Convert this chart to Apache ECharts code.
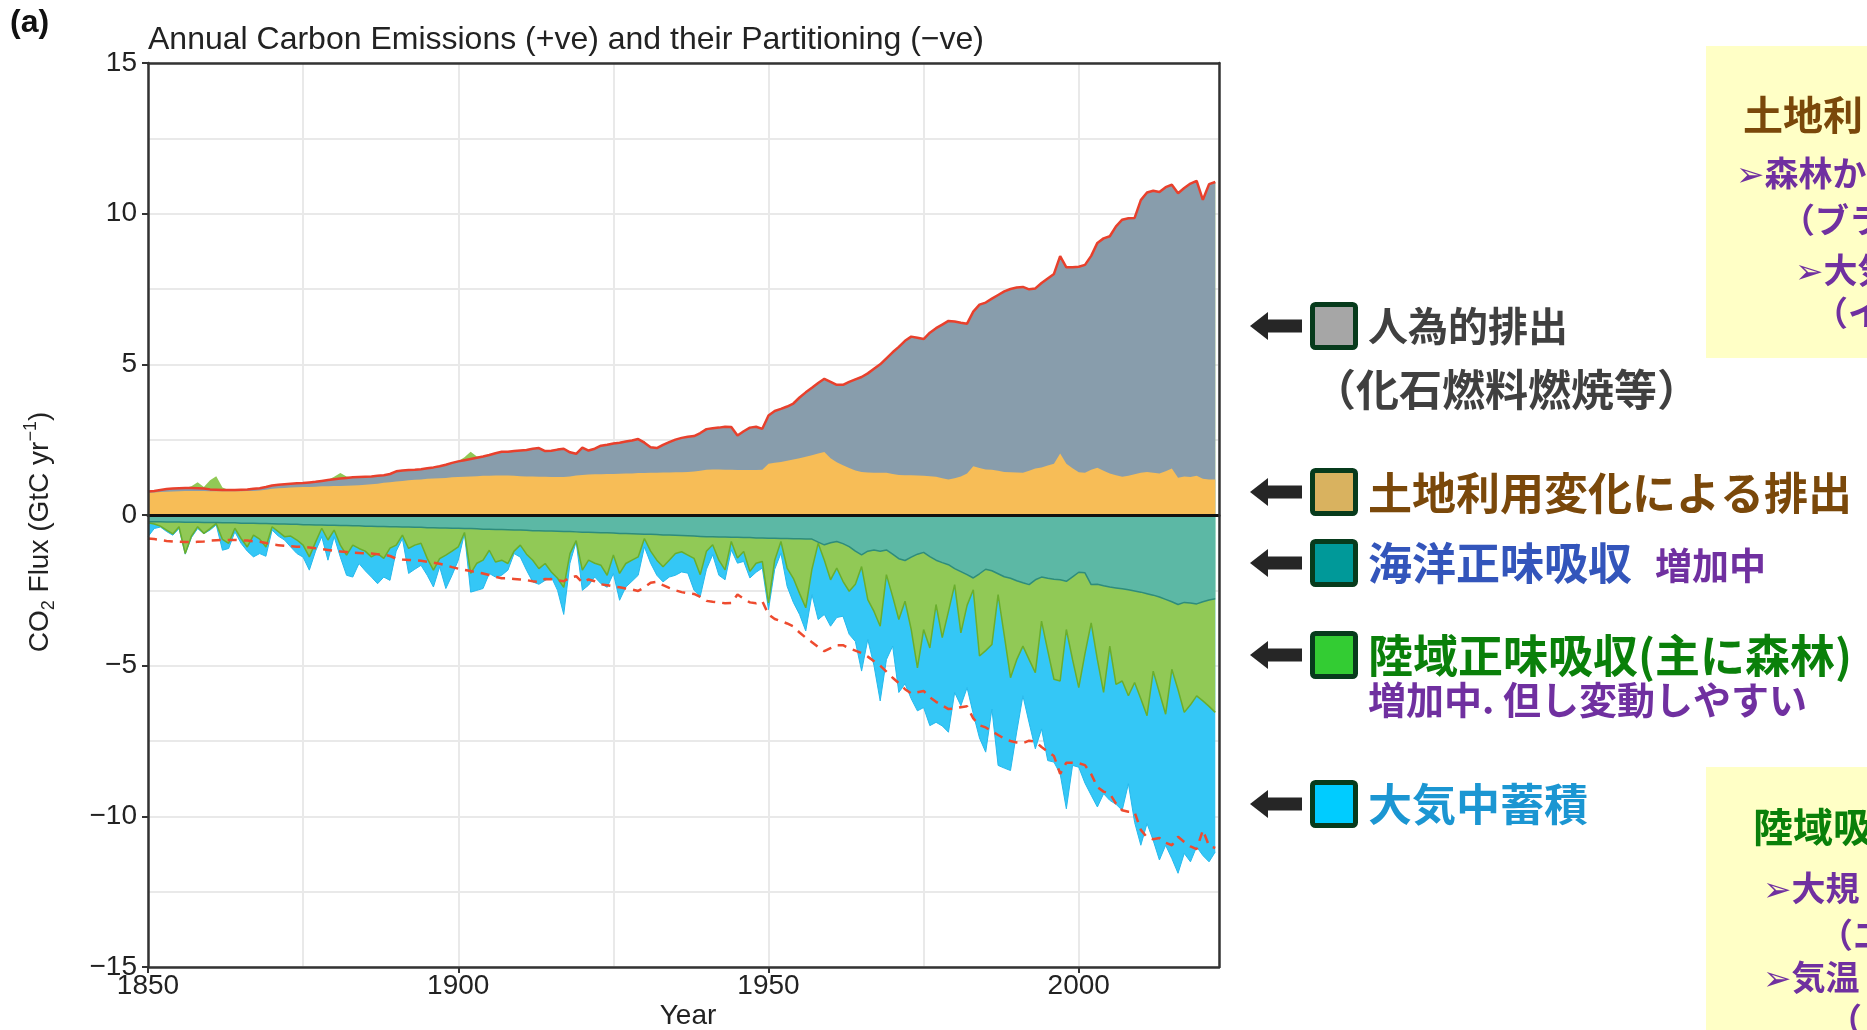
<!DOCTYPE html>
<html>
<head>
<meta charset="utf-8">
<script src="https://cdn.jsdelivr.net/npm/echarts/dist/echarts.min.js"></script>
<style>
html,body{margin:0;padding:0;background:#fff;}
#chart{width:1867px;height:1030px;}
</style>
</head>
<body>
<div id="chart"></div>
<script>
// ---------- data (GtC / yr), one value per year 1850..2022 ----------
const firstYear = 1850, lastYear = 2022;
const years = [];
for (let y = firstYear; y <= lastYear; y++) years.push(y);

// total anthropogenic emissions (fossil + land-use change), top of grey area / red line
const emisTotal = [
 0.78,0.80,0.83,0.86,0.88,0.89,0.90,0.90,0.89,0.88,
 0.85,0.84,0.83,0.83,0.83,0.84,0.85,0.87,0.89,0.93,
 0.98,1.00,1.02,1.04,1.05,1.06,1.08,1.10,1.13,1.16,
 1.19,1.21,1.23,1.25,1.26,1.27,1.28,1.30,1.32,1.36,
 1.45,1.48,1.49,1.50,1.52,1.55,1.58,1.62,1.67,1.73,
 1.78,1.82,1.86,1.90,1.94,1.99,2.05,2.10,2.10,2.12,
 2.14,2.16,2.20,2.22,2.12,2.13,2.17,2.20,2.08,2.03,
 2.24,2.14,2.20,2.30,2.33,2.37,2.40,2.44,2.47,2.52,
 2.40,2.25,2.22,2.33,2.42,2.50,2.56,2.60,2.62,2.72,
 2.85,2.88,2.90,2.93,2.92,2.64,2.78,2.90,2.93,2.86,
 3.30,3.45,3.52,3.60,3.70,3.90,4.07,4.22,4.38,4.52,
 4.42,4.32,4.32,4.42,4.50,4.58,4.70,4.85,5.00,5.20,
 5.40,5.58,5.78,5.92,5.88,5.84,6.05,6.20,6.32,6.44,
 6.42,6.38,6.35,6.75,6.98,7.05,7.18,7.30,7.42,7.50,
 7.55,7.57,7.49,7.52,7.70,7.85,8.00,8.59,8.22,8.22,
 8.24,8.30,8.60,9.03,9.18,9.25,9.58,9.80,9.85,9.86,
 10.45,10.70,10.76,10.72,10.88,10.96,10.68,10.85,11.00,11.09,
 10.46,10.98,11.05
];

// land-use change emissions (orange)
const emisLUC = [
 0.74,0.75,0.76,0.77,0.78,0.79,0.80,0.80,0.80,0.80,
 0.79,0.79,0.79,0.79,0.79,0.79,0.80,0.80,0.81,0.84,
 0.87,0.89,0.90,0.91,0.92,0.93,0.93,0.94,0.95,0.95,
 0.96,0.96,0.97,0.98,0.99,1.00,1.02,1.04,1.07,1.09,
 1.11,1.13,1.15,1.17,1.18,1.20,1.21,1.22,1.23,1.25,
 1.26,1.27,1.28,1.29,1.30,1.30,1.31,1.31,1.31,1.30,
 1.29,1.28,1.28,1.27,1.27,1.26,1.26,1.26,1.28,1.31,
 1.33,1.34,1.35,1.35,1.36,1.36,1.37,1.38,1.38,1.39,
 1.39,1.40,1.40,1.41,1.41,1.42,1.42,1.43,1.44,1.47,
 1.50,1.51,1.51,1.50,1.50,1.49,1.49,1.49,1.49,1.50,
 1.70,1.73,1.76,1.80,1.84,1.88,1.93,1.98,2.04,2.09,
 1.88,1.75,1.65,1.56,1.48,1.43,1.41,1.40,1.40,1.40,
 1.36,1.33,1.32,1.32,1.31,1.30,1.29,1.27,1.22,1.18,
 1.22,1.28,1.38,1.62,1.56,1.51,1.50,1.47,1.43,1.42,
 1.41,1.40,1.47,1.54,1.58,1.64,1.70,2.04,1.70,1.55,
 1.42,1.40,1.50,1.57,1.47,1.38,1.32,1.27,1.30,1.35,
 1.40,1.43,1.40,1.38,1.45,1.54,1.24,1.28,1.26,1.30,
 1.20,1.18,1.18
];

// ocean sink (teal, negative)
const sinkOcean = [
 -0.22,-0.22,-0.22,-0.23,-0.23,-0.23,-0.24,-0.24,-0.24,-0.25,
 -0.25,-0.25,-0.26,-0.26,-0.26,-0.27,-0.27,-0.27,-0.28,-0.28,
 -0.29,-0.30,-0.30,-0.31,-0.31,-0.32,-0.32,-0.33,-0.33,-0.34,
 -0.34,-0.35,-0.35,-0.36,-0.36,-0.37,-0.37,-0.38,-0.38,-0.39,
 -0.39,-0.40,-0.40,-0.41,-0.41,-0.42,-0.42,-0.43,-0.43,-0.44,
 -0.44,-0.45,-0.45,-0.46,-0.47,-0.47,-0.48,-0.48,-0.49,-0.50,
 -0.50,-0.51,-0.52,-0.52,-0.53,-0.53,-0.54,-0.55,-0.55,-0.56,
 -0.57,-0.57,-0.58,-0.59,-0.59,-0.60,-0.61,-0.61,-0.62,-0.63,
 -0.64,-0.64,-0.65,-0.66,-0.66,-0.67,-0.68,-0.69,-0.70,-0.71,
 -0.72,-0.72,-0.73,-0.73,-0.74,-0.74,-0.75,-0.75,-0.76,-0.76,
 -0.77,-0.77,-0.78,-0.78,-0.79,-0.79,-0.80,-0.80,-0.90,-0.99,
 -0.92,-0.88,-0.95,-1.05,-1.20,-1.32,-1.20,-1.16,-1.20,-1.16,
 -1.30,-1.45,-1.51,-1.40,-1.30,-1.24,-1.38,-1.50,-1.58,-1.65,
 -1.78,-1.88,-1.98,-2.09,-1.95,-1.80,-1.85,-1.95,-2.05,-2.10,
 -2.18,-2.25,-2.31,-2.15,-2.06,-2.10,-2.13,-2.15,-2.20,-2.05,
 -1.90,-1.92,-2.31,-2.30,-2.35,-2.39,-2.42,-2.45,-2.48,-2.52,
 -2.56,-2.61,-2.66,-2.72,-2.80,-2.88,-2.97,-2.90,-2.92,-2.95,
 -2.88,-2.82,-2.78
];

// ocean + land sink (bottom of green area)
const sinkOceanLand = [
 -0.26,-0.30,-0.37,-0.50,-0.63,-0.39,-1.28,-0.70,-0.39,-0.61,
 -0.45,-0.28,-0.81,-0.94,-0.44,-0.78,-1.06,-0.67,-0.80,-1.06,
 -0.39,-0.55,-0.72,-0.70,-0.83,-1.00,-1.39,-0.90,-0.44,-0.83,
 -0.50,-1.00,-1.33,-1.00,-1.11,-1.20,-1.39,-1.28,-1.44,-1.10,
 -1.00,-0.67,-1.11,-1.00,-0.94,-1.44,-1.83,-1.45,-1.33,-1.20,
 -1.06,-0.58,-1.94,-1.60,-1.50,-1.17,-1.56,-1.50,-1.61,-1.20,
 -1.00,-1.30,-1.50,-1.78,-1.61,-1.89,-2.10,-2.40,-1.28,-0.85,
 -1.83,-1.50,-1.60,-1.67,-2.00,-1.33,-1.94,-1.61,-1.50,-1.39,
 -0.78,-1.20,-1.50,-1.72,-1.50,-1.28,-1.22,-1.33,-1.44,-1.98,
 -1.20,-0.99,-1.50,-1.82,-0.88,-1.43,-1.21,-1.87,-1.60,-1.54,
 -2.92,-1.50,-0.88,-1.76,-2.10,-2.60,-3.08,-1.80,-0.94,-1.50,
 -2.15,-1.76,-2.20,-2.53,-2.30,-1.71,-2.81,-3.20,-3.69,-1.98,
 -2.70,-3.47,-2.86,-3.80,-5.07,-3.80,-4.41,-2.97,-4.07,-3.20,
 -2.31,-3.91,-3.00,-2.48,-4.68,-4.50,-4.30,-2.64,-4.00,-5.40,
 -4.80,-4.35,-4.80,-5.23,-3.52,-4.50,-5.45,-5.51,-3.80,-4.80,
 -5.73,-4.60,-3.58,-4.80,-5.89,-4.35,-5.62,-5.51,-6.00,-5.56,
 -6.10,-6.66,-5.18,-5.90,-6.61,-5.12,-5.80,-6.55,-6.30,-6.00,
 -6.17,-6.35,-6.55
];

// ocean + land + atmospheric growth (bottom of blue area)
const sinkAll = [
 -0.72,-0.45,-0.40,-0.55,-0.67,-0.45,-1.30,-0.75,-0.45,-0.62,
 -0.50,-0.33,-1.17,-1.11,-0.56,-0.94,-1.20,-1.39,-1.28,-1.37,
 -0.50,-0.70,-0.83,-1.06,-1.28,-1.40,-1.83,-1.20,-0.72,-1.50,
 -0.72,-1.40,-2.00,-2.06,-1.61,-1.85,-2.06,-2.28,-2.06,-2.17,
 -1.20,-0.78,-1.94,-1.80,-1.67,-2.00,-2.39,-1.72,-2.44,-2.00,
 -1.50,-0.61,-2.56,-2.50,-2.44,-1.94,-2.06,-2.00,-1.83,-1.28,
 -1.40,-1.83,-2.22,-2.30,-2.17,-2.06,-2.50,-3.30,-1.60,-0.89,
 -2.50,-2.33,-2.06,-2.28,-2.40,-1.94,-2.83,-2.39,-2.20,-2.00,
 -1.06,-1.60,-2.00,-2.22,-2.06,-2.00,-1.89,-1.93,-2.50,-2.70,
 -1.80,-1.32,-2.00,-2.15,-1.16,-1.60,-1.54,-2.09,-1.90,-1.76,
 -3.14,-1.80,-1.27,-2.37,-2.90,-3.30,-3.85,-2.64,-3.47,-3.30,
 -3.69,-3.40,-3.36,-3.96,-4.20,-5.18,-4.13,-5.00,-6.17,-4.80,
 -4.35,-5.89,-5.60,-6.10,-6.50,-6.39,-6.99,-6.88,-7.00,-7.21,
 -5.89,-6.33,-5.73,-6.60,-7.40,-7.87,-6.44,-8.31,-8.40,-8.48,
 -7.20,-6.00,-6.90,-7.76,-7.10,-8.15,-8.20,-8.59,-9.75,-8.31,
 -8.37,-8.90,-9.30,-9.69,-9.25,-9.47,-9.60,-9.80,-8.92,-10.20,
 -10.96,-10.24,-10.80,-11.45,-10.96,-11.40,-11.89,-11.23,-11.51,-11.01,
 -11.30,-11.51,-11.18
];

// years where the land acted as a source (green above the emission line)
const landSourceYears  = [1857,1858,1859,1860,1861,1862,1880,1881,1882,1901,1902,1903,1930];
const landSourceValues = [0.05,0.20,0.05,0.30,0.45,0.08,0.08,0.18,0.05,0.10,0.24,0.04,0.05];

// tick labels
const xTickValues = [1850,1900,1950,2000];
const yTickValues = [-15,-10,-5,0,5,10,15];

// ---------- build ----------
const pair = arr => arr.map((v, i) => [years[i], v]);
const landTop = emisTotal.map((v, i) => {
  const k = landSourceYears.indexOf(years[i]);
  return k >= 0 ? +(v + landSourceValues[k]).toFixed(2) : v;
});
const mirror = emisTotal.map(v => -v);

const chart = echarts.init(document.getElementById('chart'), null, {renderer: 'canvas'});
const FONT = "'Liberation Sans', Arial, Helvetica, sans-serif";
const JP = "'Noto Sans CJK JP', 'DejaVu Sans', sans-serif";
const XMAX = 2022.6;

function area(name, data, color, lineColor, lineWidth) {
  return {
    type: 'line', name, data, symbol: 'none', silent: true,
    xAxisIndex: 0, yAxisIndex: 0,
    lineStyle: {width: lineWidth, color: lineColor},
    areaStyle: {color, opacity: 1},
    emphasis: {disabled: true}
  };
}
const minus = v => (v < 0 ? '\u2212' + Math.abs(v) : String(v));

const option = {
  animation: false,
  grid: {left: 148, top: 63, width: 1071, height: 904, containLabel: false},
  xAxis: [
    { // grid lines
      type: 'value', min: firstYear, max: XMAX, interval: 25,
      axisLine: {show: false}, axisTick: {show: false}, axisLabel: {show: false},
      splitLine: {show: true, lineStyle: {color: '#e9e9e9', width: 2}}
    },
    { // bottom axis with labels
      type: 'value', min: firstYear, max: XMAX, interval: 50, position: 'bottom', z: 10,
      axisLine: {show: true, onZero: false, lineStyle: {color: '#333', width: 2.5}},
      axisTick: {show: true, length: 6, customValues: xTickValues, lineStyle: {color: '#333', width: 2}},
      axisLabel: {show: true, customValues: xTickValues, margin: 5, color: '#222', fontSize: 28, fontFamily: FONT,
        formatter: v => (v % 50 === 0 ? String(v) : '')},
      splitLine: {show: false}
    },
    { // top frame
      type: 'value', min: firstYear, max: XMAX, position: 'top', z: 10,
      axisLine: {show: true, onZero: false, lineStyle: {color: '#333', width: 2.5}},
      axisTick: {show: false}, axisLabel: {show: false}, splitLine: {show: false}
    },
    { // zero line
      type: 'value', min: firstYear, max: XMAX, position: 'bottom', z: 9,
      axisLine: {show: true, onZero: true, onZeroAxisIndex: 0, lineStyle: {color: '#111', width: 3}},
      axisTick: {show: false}, axisLabel: {show: false}, splitLine: {show: false}
    }
  ],
  yAxis: [
    {
      type: 'value', min: -15, max: 15, interval: 2.5,
      axisLine: {show: false}, axisTick: {show: false}, axisLabel: {show: false},
      splitLine: {show: true, lineStyle: {color: '#e9e9e9', width: 2}}
    },
    {
      type: 'value', min: -15, max: 15, interval: 5, position: 'left', z: 10,
      axisLine: {show: true, onZero: false, lineStyle: {color: '#333', width: 2.5}},
      axisTick: {show: true, length: 6, customValues: yTickValues, lineStyle: {color: '#333', width: 2}},
      axisLabel: {show: true, customValues: yTickValues, margin: 11, color: '#222', fontSize: 28, fontFamily: FONT,
        formatter: minus},
      splitLine: {show: false}
    },
    {
      type: 'value', min: -15, max: 15, position: 'right', z: 10,
      axisLine: {show: true, onZero: false, lineStyle: {color: '#333', width: 2.5}},
      axisTick: {show: false}, axisLabel: {show: false}, splitLine: {show: false}
    }
  ],
  series: [
    area('Land source', pair(landTop), '#91C956', '#91C956', 0),
    area('Fossil CO2', pair(emisTotal), '#889DAC', '#889DAC', 0),
    area('Land-use change', pair(emisLUC), '#F7BD57', '#F7BD57', 0),
    area('Atmosphere', pair(sinkAll), '#34C7F6', '#25B8EC', 1),
    area('Land sink', pair(sinkOceanLand), '#91C956', '#6AAE2C', 1.5),
    area('Ocean sink', pair(sinkOcean), '#5CB8A5', '#2E8C7C', 1.5),
    {type: 'line', name: 'Total emissions', data: pair(emisTotal), symbol: 'none', silent: true,
     lineStyle: {width: 2.5, color: '#E8402C'}},
    {type: 'line', name: 'Emissions mirrored', data: pair(mirror), symbol: 'none', silent: true,
     lineStyle: {width: 2.5, color: '#EE4B2F', type: [9, 7]}}
  ],
  graphic: buildGraphics()
};

function txt(text, x, y, size, color, opt) {
  opt = opt || {};
  return {
    type: 'text', x, y, z: 100, rotation: opt.rotation || 0,
    style: {
      text, fill: color, fontSize: size, fontFamily: opt.family || JP,
      fontWeight: opt.weight || 'bold', align: opt.align || 'left', verticalAlign: 'middle',
      rich: opt.rich
    }
  };
}
function buildGraphics() {
  const g = [];
  // panel label, title, axis names
  g.push(txt('(a)', 10, 23, 32, '#111', {family: FONT, weight: 'bold'}));
  g.push(txt('Annual Carbon Emissions (+ve) and their Partitioning (\u2212ve)', 148, 40, 32, '#222', {family: FONT, weight: 'normal'}));
  g.push(txt('Year', 688, 1016, 28, '#222', {family: FONT, weight: 'normal', align: 'center'}));
  g.push({
    type: 'text', x: 40, y: 532, rotation: Math.PI / 2, z: 100,
    style: {
      text: '{a|CO}{b|2}{a| Flux (GtC yr}{c|\u22121}{a|)}', align: 'center', verticalAlign: 'middle',
      rich: {
        a: {fontSize: 28, fontFamily: FONT, fill: '#222', lineHeight: 36},
        b: {fontSize: 18, fontFamily: FONT, fill: '#222', lineHeight: 36, verticalAlign: 'bottom'},
        c: {fontSize: 18, fontFamily: FONT, fill: '#222', lineHeight: 36, verticalAlign: 'top'}
      }
    }
  });
  // legend annotations
  const items = [
    {cy: 326, color: '#A6A6A6'},
    {cy: 492, color: '#D9B25F'},
    {cy: 563, color: '#009999'},
    {cy: 655, color: '#33CC33'},
    {cy: 804, color: '#00CCFF'}
  ];
  items.forEach(it => {
    g.push({type: 'polygon', z: 100, shape: {points: [[1250, it.cy], [1268, it.cy - 14], [1268, it.cy + 14]]},
            style: {fill: '#262626'}});
    g.push({type: 'rect', z: 100, shape: {x: 1266, y: it.cy - 6.5, width: 36, height: 13}, style: {fill: '#262626'}});
    g.push({type: 'rect', z: 100, shape: {x: 1312.5, y: it.cy - 21.5, width: 43, height: 43, r: 3},
            style: {fill: it.color, stroke: '#073B1C', lineWidth: 5}});
  });
  g.push(txt('人為的排出', 1368, 326, 40, '#404040'));
  g.push(txt('（化石燃料燃焼等）', 1313, 390, 43, '#404040'));
  g.push(txt('土地利用変化による排出', 1368, 493, 44, '#7A480A'));
  g.push(txt('海洋正味吸収', 1368, 563, 44, '#3355BB'));
  g.push(txt('増加中', 1655, 566, 37, '#7030A0'));
  g.push(txt('陸域正味吸収(主に森林)', 1368, 656, 45, '#0A800A'));
  g.push(txt('増加中. 但し変動しやすい', 1368, 700, 38, '#7030A0'));
  g.push(txt('大気中蓄積', 1368, 804, 44, '#1B96D2'));
  // yellow note boxes (cut by the right edge)
  g.push({type: 'rect', z: 90, shape: {x: 1706, y: 46, width: 170, height: 312}, style: {fill: '#FFFFC6'}});
  g.push({type: 'rect', z: 90, shape: {x: 1706, y: 767, width: 170, height: 280}, style: {fill: '#FFFFC6'}});
  g.push(txt('土地利', 1743, 115, 40, '#7A480A'));
  g.push(txt('➢森林か', 1736, 173, 34, '#7030A0'));
  g.push(txt('（ブラ', 1781, 220, 34, '#7030A0'));
  g.push(txt('➢大気', 1795, 270, 34, '#7030A0'));
  g.push(txt('（イ', 1814, 313, 34, '#7030A0'));
  g.push(txt('陸域吸', 1753, 827, 40, '#0A800A'));
  g.push(txt('➢大規', 1763, 888, 34, '#7030A0'));
  g.push(txt('（エ', 1819, 935, 34, '#7030A0'));
  g.push(txt('➢気温', 1763, 977, 34, '#7030A0'));
  g.push(txt('（', 1828, 1020, 34, '#7030A0'));
  return g;
}

chart.setOption(option);
</script>
</body>
</html>
